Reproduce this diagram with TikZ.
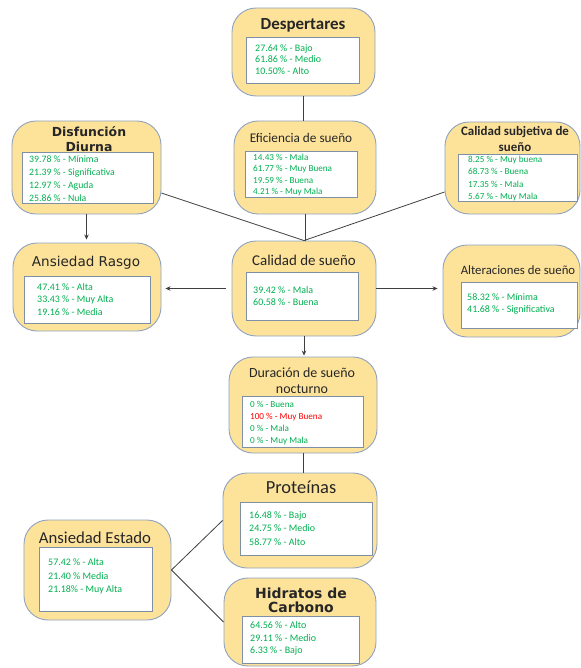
\documentclass[tikz,border=0pt]{standalone}
\usepackage{fontspec}
\setmainfont{Carlito}
\newfontfamily\widefont{DejaVu Sans}
\usetikzlibrary{arrows.meta}

\definecolor{boxfill}{HTML}{FDE29A}
\definecolor{boxedge}{HTML}{8FA3C0}
\definecolor{paneledge}{HTML}{7F8FA6}
\definecolor{valgreen}{HTML}{00B050}
\definecolor{titlecol}{HTML}{262626}
\definecolor{linkcol}{HTML}{3F3F3F}

\tikzset{
  outerbox/.style={draw=boxedge, fill=boxfill, line width=0.9bp, rounded corners=24bp, inner sep=0pt},
  panel/.style={draw=paneledge, fill=white, line width=0.8bp, inner sep=0pt},
  ttl/.style={text=titlecol, align=center, inner sep=0pt},
  vals/.style={text=valgreen, align=left, anchor=west, inner sep=0pt},
  link/.style={draw=linkcol, line width=0.8bp},
  arrowlink/.style={link, -{Stealth[length=5bp,width=4.5bp]}},
}
\newcommand\fsz[2]{\fontsize{#1}{#2}\selectfont}

\begin{document}
\begin{tikzpicture}[x=1bp,y=-1bp]
\useasboundingbox (0,0) rectangle (581,668);

% ---------- outer boxes ----------
\node[outerbox, minimum width=143bp, minimum height=88bp] (desp)  at (303.5,52)  {};
\node[outerbox, minimum width=142bp, minimum height=93bp] (efic)  at (305,167.5) {};
\node[outerbox, minimum width=149bp, minimum height=93bp] (disf)  at (86.5,167.5) {};
\node[outerbox, minimum width=135bp, minimum height=92bp] (csub)  at (512.5,168) {};
\node[outerbox, minimum width=148bp, minimum height=88bp] (rasgo) at (87,287)    {};
\node[outerbox, minimum width=144bp, minimum height=95bp] (cal)   at (304,288.5) {};
\node[outerbox, minimum width=137bp, minimum height=92bp] (alt)   at (511.5,291) {};
\node[outerbox, minimum width=148bp, minimum height=96bp] (dur)   at (303,405)   {};
\node[outerbox, minimum width=154bp, minimum height=95bp] (prot)  at (300,520.5) {};
\node[outerbox, minimum width=147bp, minimum height=100bp] (est)  at (97.5,570)  {};
\node[outerbox, minimum width=152bp, minimum height=88bp] (hid)   at (300,622)   {};

% ---------- white panels ----------
\node[panel, minimum width=113bp, minimum height=46bp] (despP)  at (302.5,60)   {};
\node[panel, minimum width=112bp, minimum height=46bp] (eficP)  at (301,174)    {};
\node[panel, minimum width=131bp, minimum height=51bp] (disfP)  at (87.5,177.5) {};
\node[panel, minimum width=119bp, minimum height=47bp] (csubP)  at (517.5,177.5) {};
\node[panel, minimum width=126bp, minimum height=47bp] (rasgoP) at (87,299.5)   {};
\node[panel, minimum width=112bp, minimum height=48bp] (calP)   at (302,296)    {};
\node[panel, minimum width=116bp, minimum height=46bp] (altP)   at (519,305)    {};
\node[panel, minimum width=121bp, minimum height=51bp] (durP)   at (302.5,421.5) {};
\node[panel, minimum width=132bp, minimum height=53bp] (protP)  at (306,528.5)  {};
\node[panel, minimum width=113bp, minimum height=64bp] (estP)   at (95.5,579)   {};
\node[panel, minimum width=117bp, minimum height=47bp] (hidP)   at (300.5,639.5) {};

% ---------- titles ----------
\node[ttl, font=\fsz{17}{20}\bfseries] (despT) at (303,25) {Despertares};
\node[ttl, font=\fsz{13.3}{16}] (eficT) at (301,138) {Eficiencia de sueño};
\node[ttl, font=\widefont\fsz{12.5}{15}\bfseries] (disfT) at (89,139.5) {Disfunción\\Diurna};
\node[ttl, font=\fsz{13}{16}\bfseries] (csubT) at (515,139) {Calidad subjetiva de\\sueño};
\node[ttl, font=\widefont\fsz{13.6}{16}] (rasgoT) at (86,263) {Ansiedad Rasgo};
\node[ttl, font=\fsz{15}{18}] (calT) at (304,260) {Calidad de sueño};
\node[ttl, font=\fsz{12.8}{16}] (altT) at (518,270) {Alteraciones de sueño};
\node[ttl, font=\fsz{14}{16}] (durT) at (302,381) {Duración de sueño\\nocturno};
\node[ttl, font=\fsz{18.5}{20}] (protT) at (301,487) {Proteínas};
\node[ttl, font=\fsz{16.8}{20}] (estT) at (95,538) {Ansiedad Estado};
\node[ttl, font=\widefont\fsz{14}{14}\bfseries] (hidT) at (301,600) {Hidratos de\\Carbono};

% ---------- values ----------
\node[vals, font=\fsz{10}{11.5}] (despV) at (255,59.5)
  {27.64 \% - Bajo\\61.86 \% - Medio\\10.50\% - Alto};
\node[vals, font=\fsz{9.2}{11.3}] (eficV) at (253,175)
  {14.43 \% - Mala\\61.77 \% - Muy Buena\\19.59 \% - Buena\\4.21 \% - Muy Mala};
\node[vals, font=\fsz{9.8}{13}] (disfV) at (29,178.5)
  {39.78 \% - Mínima\\21.39 \% - Significativa\\12.97 \% - Aguda\\25.86 \% - Nula};
\node[vals, font=\fsz{9.2}{12.5}] (csubV) at (468,178.5)
  {8.25 \% - Muy buena\\68.73 \% - Buena\\17.35 \% - Mala\\5.67 \% - Muy Mala};
\node[vals, font=\fsz{10}{12.5}] (rasgoV) at (37,299.5)
  {47.41 \% - Alta\\33.43 \% - Muy Alta\\19.16 \% - Media};
\node[vals, font=\fsz{10}{12}] (calV) at (253,296)
  {39.42 \% - Mala\\60.58 \% - Buena};
\node[vals, font=\fsz{10}{12}] (altV) at (467,304)
  {58.32 \% - Mínima\\41.68 \% - Significativa};
\node[vals, font=\fsz{9.2}{12.2}] (durV) at (250,423)
  {0 \% - Buena\\\textcolor{red}{100 \% - Muy Buena}\\0 \% - Mala\\0 \% - Muy Mala};
\node[vals, font=\fsz{10}{13.5}] (protV) at (249,528.5)
  {16.48 \% - Bajo\\24.75 \% - Medio\\58.77 \% - Alto};
\node[vals, font=\fsz{10}{13.5}] (estV) at (48,576.5)
  {57.42 \% - Alta\\21.40 \% Media\\21.18\% - Muy Alta};
\node[vals, font=\fsz{10}{12.5}] (hidV) at (250,638.5)
  {64.56 \% - Alto\\29.11 \% - Medio\\6.33 \% - Bajo};

% ---------- connectors ----------
\draw[link] (desp.south) -- (desp.south |- efic.north);
\draw[link] (efic.south) -- (efic.south |- cal.north);
\draw[link] ([yshift=-25.5bp]disf.east) -- (cal.north);
\draw[link] ([yshift=-24bp]csub.west) -- (cal.north);
\draw[arrowlink, shorten >=3bp] (disf.south) -- (disf.south |- rasgo.north);
\draw[arrowlink, shorten <=6bp, shorten >=4bp] (cal.west) -- (cal.west -| rasgo.east);
\draw[arrowlink, shorten >=5bp] (cal.east) -- (cal.east -| alt.west);
\draw[arrowlink, shorten >=1bp] (cal.south) -- (cal.south |- dur.north);
\draw[link] (dur.south) -- (dur.south |- prot.north);
\draw[link] (est.east) -- (prot.west);
\draw[link] (est.east) -- (hid.west);
\end{tikzpicture}
\end{document}
